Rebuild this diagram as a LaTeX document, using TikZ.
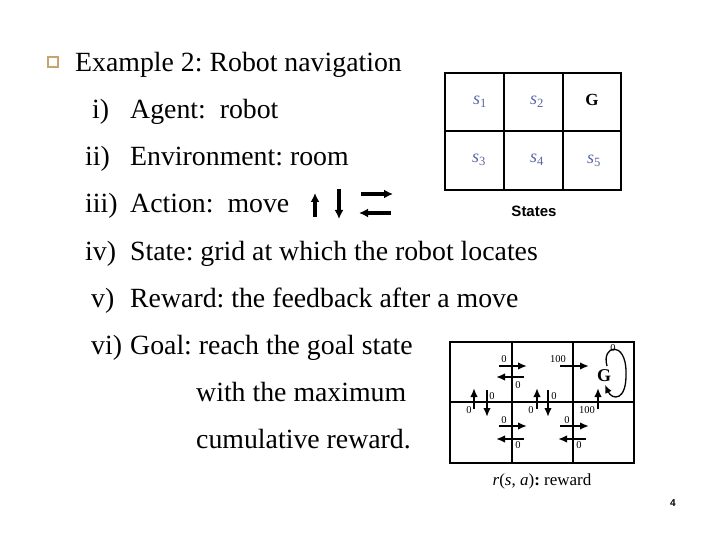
\documentclass[tikz,border=0pt]{standalone}
\usepackage{fontspec}
\setmainfont{Liberation Serif}
\setsansfont{Liberation Sans}
\usetikzlibrary{arrows.meta}

\definecolor{statecol}{HTML}{5A66A8}
\definecolor{bulletcol}{HTML}{C8A46E}

\begin{document}
\frenchspacing
\begin{tikzpicture}[x=1pt,y=-1pt,
  txt/.style={anchor=base west,inner sep=0pt,font=\fontsize{27.8}{33}\selectfont},
  cell/.style={font=\fontsize{18}{20}\selectfont\itshape,text=statecol},
  num/.style={font=\fontsize{10.5}{12}\selectfont,inner sep=0pt},
  move/.style={-{Latex[length=9pt,width=7.5pt]},line width=2.6pt},
  bigmove/.style={-{Latex[length=9pt,width=9pt]},line width=4pt},
  grid/.style={line width=1.5pt}]
  \useasboundingbox (0,0) rectangle (720,540);

  % bullet and list
  \draw[bulletcol,line width=1.5pt] (48,57) rectangle (58,67);
  \node[txt] (title) at (75,72) {Example 2: Robot navigation};
  \node[txt] (n1) at (92,119)  {i)};
  \node[txt] (t1) at (130,119) {Agent:\ \ robot};
  \node[txt] (n2) at (85,166)  {ii)};
  \node[txt] (t2) at (130,166) {Environment: room};
  \node[txt] (n3) at (85,213)  {iii)};
  \node[txt] (t3) at (130,213) {Action:\ \ move};
  \node[txt] (n4) at (85,260)  {iv)};
  \node[txt] (t4) at (130,260) {State: grid at which the robot locates};
  \node[txt] (n5) at (91,307)  {v)};
  \node[txt] (t5) at (130,307) {Reward: the feedback after a move};
  \node[txt] (n6) at (91,354)  {vi)};
  \node[txt] (t6) at (130,354) {Goal: reach the goal state};
  \node[txt] (t7) at (196,401) {with the maximum};
  \node[txt] (t8) at (196,448) {cumulative reward.};

  % action arrows
  \draw[bigmove] (315,217) -- (315,193);
  \draw[bigmove] (339,189) -- (339,219);
  \draw[bigmove] (361,194) -- (393,194);
  \draw[bigmove] (391,213) -- (359,213);

  % states grid
  \draw[grid] (445,73) rectangle (621,190);
  \draw[grid] (445,131) -- (621,131);
  \draw[grid] (504,73) -- (504,190);
  \draw[grid] (563,73) -- (563,190);
  \node[cell] (s1) at (480,102) {s\textsubscript{\upshape 1}};
  \node[cell] (s2) at (537,102) {s\textsubscript{\upshape 2}};
  \node[font=\fontsize{17}{20}\selectfont\bfseries] (G) at (592,100) {G};
  \node[cell] (s3) at (479,160) {s\textsubscript{\upshape 3}};
  \node[cell] (s4) at (537,160) {s\textsubscript{\upshape 4}};
  \node[cell] (s5) at (594,161) {s\textsubscript{\upshape 5}};
  \node[font=\fontsize{15}{18}\sffamily\bfseries] (states) at (534,211) {States};

  % reward grid
  \draw[grid] (450,342) rectangle (634,463);
  \draw[grid] (450,402) -- (634,402);
  \draw[grid] (512,342) -- (512,463);
  \draw[grid] (573,342) -- (573,463);
  \draw[move] (499,366) -- (527,366);
  \draw[move] (524,377) -- (496,377);
  \draw[move] (560,366) -- (589,366);
  \draw[move] (499,426) -- (527,426);
  \draw[move] (524,439) -- (496,439);
  \draw[move] (560,426) -- (589,426);
  \draw[move] (586,439) -- (558,439);
  \draw[move] (474,409) -- (474,388);
  \draw[move] (487,390) -- (487,417);
  \draw[move] (537,409) -- (537,388);
  \draw[move] (548,390) -- (548,417);
  \draw[move] (598,409) -- (598,388);
  \node[font=\fontsize{18}{20}\selectfont\bfseries] (goal) at (604,376) {G};
  \draw[-{Latex[length=8pt,width=7pt]},line width=1.3pt]
    (607,366) .. controls (601,345) and (626,340) .. (626,372)
    .. controls (627,402) and (612,400) .. (605,385);
  \node[num] (r1) at (504,359) {0};
  \node[num] (r2) at (518,385) {0};
  \node[num] (r3) at (558,359) {100};
  \node[num] (r4) at (613,348) {0};
  \node[num] (r5) at (469,410) {0};
  \node[num] (r6) at (492,396) {0};
  \node[num] (r7) at (531,410) {0};
  \node[num] (r8) at (554,396) {0};
  \node[num] (r9) at (587,410) {100};
  \node[num] (r10) at (504,420) {0};
  \node[num] (r11) at (518,445) {0};
  \node[num] (r12) at (567,420) {0};
  \node[num] (r13) at (579,445) {0};
  \node[font=\fontsize{17}{20}\selectfont] (reward) at (542,481)
    {\textit{r}(\textit{s}, \textit{a})\textbf{:} reward};

  \node[font=\fontsize{10}{12}\sffamily\bfseries] (page) at (673,503) {4};
\end{tikzpicture}
\end{document}
